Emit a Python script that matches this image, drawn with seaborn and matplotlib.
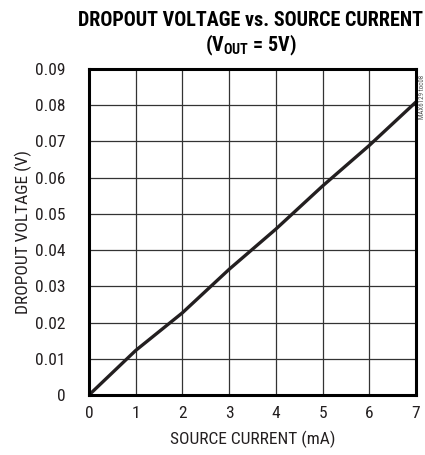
import numpy as np
import pandas as pd
import seaborn as sns
import matplotlib.pyplot as plt

# data
source_current = [0, 1, 2, 3, 4, 5, 6, 7]
dropout_voltage = [0.0, 0.0123, 0.0227, 0.0347, 0.0458, 0.0577, 0.0689, 0.0809]
x_ticks = [0, 1, 2, 3, 4, 5, 6, 7]
y_ticks = [0, 0.01, 0.02, 0.03, 0.04, 0.05, 0.06, 0.07, 0.08, 0.09]
y_tick_labels = ["0", "0.01", "0.02", "0.03", "0.04", "0.05", "0.06", "0.07", "0.08", "0.09"]

sns.set_style("white")
plt.rcParams['font.family'] = ['Roboto Condensed', 'DejaVu Sans']
plt.rcParams['mathtext.fontset'] = 'custom'
plt.rcParams['mathtext.rm'] = 'Roboto Condensed'
plt.rcParams['mathtext.bf'] = 'Roboto Condensed:bold'

df = pd.DataFrame({"current": source_current, "voltage": dropout_voltage})

fig = plt.figure(figsize=(4.25, 4.55), dpi=100)
ax = fig.add_axes([89 / 425, 1 - 395 / 455, 327 / 425, 326 / 455])

sns.lineplot(data=df, x="current", y="voltage", ax=ax, color="#231f20", linewidth=2.4)

ax.set_xlim(0, 7)
ax.set_ylim(0, 0.09)
ax.set_xticks(x_ticks)
ax.set_yticks(y_ticks)
ax.set_yticklabels(y_tick_labels)
ax.grid(True, color="#333333", linewidth=0.9)
ax.set_axisbelow(True)
for s in ax.spines.values():
    s.set_visible(True)
    s.set_color("black")
    s.set_linewidth(2.2)
ax.tick_params(axis="both", length=0, labelsize=12.5, colors="#231f20")
ax.tick_params(axis="x", pad=8)
ax.tick_params(axis="y", pad=17)

ax.set_xlabel("SOURCE CURRENT (mA)", fontsize=12.5, color="#231f20", labelpad=7)
ax.set_ylabel("DROPOUT VOLTAGE (V)", fontsize=12.5, color="#231f20", labelpad=2)

fig.text(251 / 425, 1 - 20 / 455, "DROPOUT VOLTAGE vs. SOURCE CURRENT", ha="center", va="center",
         fontsize=14.5, fontweight="bold", color="black")
fig.text(251 / 425, 1 - 45 / 455, r"(V$_{\mathbf{OUT}}$ = 5V)", ha="center", va="center",
         fontsize=14.5, fontweight="bold", color="black")
fig.text(422 / 425, 1 - 97 / 455, "MAX6129 toc08", rotation=90, ha="center", va="center",
         fontsize=5, color="#555555")

plt.savefig("out.png", dpi=100)
